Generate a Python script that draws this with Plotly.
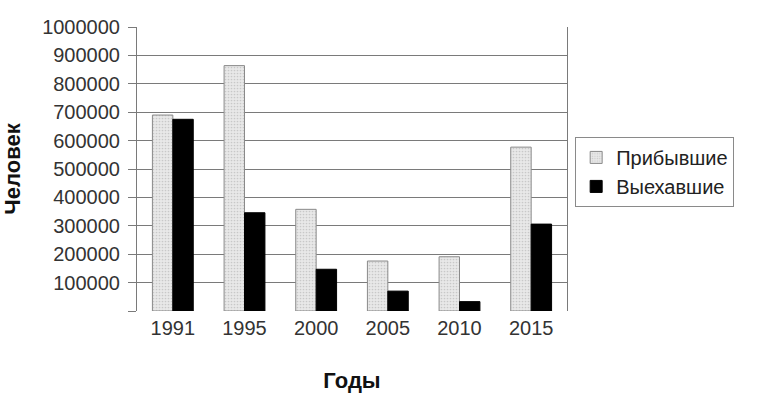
import plotly.graph_objects as go

years = ["1991", "1995", "2000", "2005", "2010", "2015"]
arrived = [690000, 864000, 358000, 176000, 191000, 577000]
departed = [675000, 346000, 147000, 70000, 33000, 306000]
y_ticks = [0, 100000, 200000, 300000, 400000, 500000, 600000, 700000, 800000, 900000, 1000000]
y_labels = [""] + [str(v) for v in y_ticks[1:]]

font_family = "Liberation Sans, Arial, sans-serif"

fig = go.Figure()
fig.add_trace(go.Bar(
    x=years, y=arrived, name="Прибывшие",
    marker=dict(color="#e4e4e4",
                line=dict(color="#8a8a8a", width=1),
                pattern=dict(shape=".", fgcolor="#a8a8a8", bgcolor="#e8e8e8", size=3, solidity=0.25)),
))
fig.add_trace(go.Bar(
    x=years, y=departed, name="Выехавшие",
    marker=dict(color="#000000", line=dict(color="#000000", width=1)),
))

fig.update_layout(
    width=758, height=399,
    margin=dict(l=137, r=191, t=27, b=88, autoexpand=False),
    paper_bgcolor="white", plot_bgcolor="white",
    barmode="group", bargap=0.43, bargroupgap=0,
    font=dict(family=font_family, size=20, color="#333333"),
    showlegend=True,
    legend=dict(x=1.019, y=0.613, xanchor="left", yanchor="top",
                bordercolor="#8a8a8a", borderwidth=1, bgcolor="white",
                font=dict(size=20, color="#222222")),
    xaxis=dict(
        automargin=False,
        showgrid=False, showline=False, ticks="",
        tickfont=dict(size=20, color="#333333"),
        ticklabelstandoff=3,
        title=dict(text="<b>Годы</b>", font=dict(size=22, color="#111111"), standoff=34),
    ),
    yaxis=dict(
        automargin=False,
        range=[0, 1000000], tickvals=y_ticks, ticktext=y_labels,
        showgrid=True, gridcolor="#7a7a7a", gridwidth=1,
        zeroline=True, zerolinecolor="white", zerolinewidth=1,
        showline=True, linecolor="#7a7a7a", linewidth=1, mirror=True,
        ticks="outside", ticklen=8, tickcolor="#7a7a7a",
        ticklabelstandoff=4,
        tickfont=dict(size=20, color="#333333"),
        title=dict(text="<b>Человек</b>", font=dict(size=22, color="#111111"), standoff=15),
    ),
)

fig.write_html("out.html", config={"displayModeBar": False},
               post_script="document.body.style.margin='0px';")
